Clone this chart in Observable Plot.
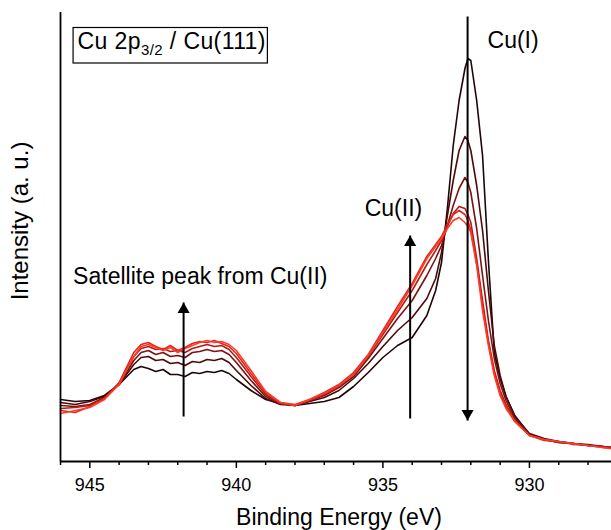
<!DOCTYPE html>
<html><head><meta charset="utf-8">
<script src="https://cdn.jsdelivr.net/npm/d3@7"></script>
<script src="https://cdn.jsdelivr.net/npm/@observablehq/plot@0.6"></script>
<style>
body{margin:0;background:#fff;}
</style></head><body><div id="chart"></div>
<script>
// Binding energy grid (eV)
const energy = [946, 945.5, 945, 944.5, 944, 943.5, 943.25, 943, 942.75, 942.5, 942.25, 942, 941.75, 941.5, 941.25, 941, 940.75, 940.5, 940.25, 940, 939.5, 939, 938.5, 938, 937.5, 937, 936.5, 936, 935.5, 935, 934.5, 934, 933.5, 933.2, 933, 932.8, 932.6, 932.4, 932.2, 932.1, 932.0, 931.8, 931.6, 931.4, 931.2, 931, 930.8, 930.5, 930, 929.5, 929, 928.5, 928, 927.5, 927.2];
// Intensity (a. u.) of six spectra, darkest to brightest
const s1 = [62,60,61,66,77,92,95,93,90,92,87,87,85,89,88,90,89,91,88,82,71,62,58,56,58,60,64,75,89,104,116,124,146,171,199,253,316,361,393,403,401,361,306,201,109,83,65,46,27,22,19,18,16,15,14];
const s2 = [59,57,60,65,77,97,104,105,101,102,98,99,96,100,99,102,101,103,99,91,76,63,57,56,60,64,71,83,98,115,131,144,163,183,209,246,281,311,325,321,311,276,231,171,116,86,65,45,28,23,20,18,17,15,14];
const s3 = [56,55,57,64,77,101,109,111,107,109,105,106,104,109,110,112,110,111,107,99,81,65,58,56,61,66,74,85,103,123,143,161,186,203,216,236,256,273,284,279,269,233,186,141,103,78,61,43,27,22,20,18,16,15,14];
const s4 = [53,54,56,63,78,105,113,115,112,113,110,111,109,113,115,117,115,116,112,104,85,67,58,56,61,67,75,87,105,127,149,171,197,211,221,235,248,255,253,247,239,203,161,121,91,71,57,41,26,22,19,18,16,15,14];
const s5 = [51,49,55,63,79,109,117,119,115,112,116,111,114,118,120,119,121,118,115,108,88,69,59,57,62,69,77,89,107,131,155,178,205,217,225,237,247,251,247,241,231,198,156,119,89,68,55,40,26,21,20,17,16,14,13];
const s6 = [48,51,54,62,77,105,115,117,114,111,114,109,113,116,119,121,119,120,117,111,91,70,59,56,62,68,76,87,106,129,152,176,203,215,223,233,241,244,239,235,229,196,151,116,86,66,53,40,26,22,20,18,16,14,13];
const seriesNames = ["1", "2", "3", "4", "5", "6"];
const seriesColors = ["#1e0606", "#4c0a0a", "#7c1212", "#b41c16", "#e0261c", "#ff3a28"];
const seriesValues = [s1, s2, s3, s4, s5, s6];

const majorTicks = [945, 940, 935, 930];
const minorTicks = [946, 944, 943, 942, 941, 939, 938, 937, 936, 934, 933, 932, 931, 929, 928];

// Arrows (x in eV, from/to in intensity)
const arrowX = [932.11, 934.07, 941.8];
const arrowFrom = [445, 43, 45];
const arrowTo = [41, 226, 159];

// Labels
const labelText = ["Cu(I)", "Cu(II)", "Satellite peak from Cu(II)"];
const labelX = [931.43, 934.64, 945.57];
const labelY = [421, 253, 185];
const labelAnchor = ["start", "middle", "start"];

const boxX = 945.40, boxY = 412;
const yLabelY = 240;

const rows = seriesNames.flatMap((n, i) => energy.map((e, j) => ({series: n, e, v: seriesValues[i][j]})));
const arrows = arrowX.map((x, i) => ({x, from: arrowFrom[i], to: arrowTo[i], down: arrowTo[i] < arrowFrom[i]}));
const labels = labelText.map((t, i) => ({t, x: labelX[i], y: labelY[i], a: labelAnchor[i]}));

const font = "'Liberation Sans', Arial, sans-serif";

const plot = Plot.plot({
  width: 611, height: 530,
  marginLeft: 60, marginRight: 0, marginTop: 12, marginBottom: 69,
  style: {fontFamily: font, fontSize: "18px", color: "#000", background: "#fff"},
  x: {domain: [946, 927.2]},
  y: {domain: [0, 449], axis: null},
  color: {type: "ordinal", domain: seriesNames, range: seriesColors},
  marks: [
    Plot.line(rows, {x: "e", y: "v", z: "series", stroke: "series", strokeWidth: 1.6, strokeLinejoin: "round"}),
    Plot.link(arrows, {x1: "x", x2: "x", y1: "from", y2: "to", stroke: "#000", strokeWidth: 2}),
    Plot.dot(arrows.filter(d => !d.down), {x: "x", y: "to", symbol: "triangle", r: 4.5, fill: "#000", stroke: "none", dy: 7}),
    Plot.dot(arrows.filter(d => d.down), {x: "x", y: "to", symbol: "triangle", r: 4.5, fill: "#000", stroke: "none", rotate: 180, dy: -7}),
    Plot.text(labels.filter(d => d.a === "start"), {x: "x", y: "y", text: "t", textAnchor: "start", fontSize: 23, fill: "#000"}),
    Plot.text(labels.filter(d => d.a === "middle"), {x: "x", y: "y", text: "t", textAnchor: "middle", fontSize: 23, fill: "#000"}),
    Plot.ruleY([0], {stroke: "#000", strokeWidth: 1.8}),
    Plot.ruleX([946], {y1: 0, y2: 449, stroke: "#000", strokeWidth: 1.8}),
    Plot.axisX({ticks: majorTicks, tickSize: 7, tickPadding: 10, label: null, fontSize: 18, strokeWidth: 1.5}),
    Plot.axisX({ticks: minorTicks, tickSize: 4, tickFormat: () => "", label: null, strokeWidth: 1.5}),
    Plot.text(["Binding Energy (eV)"], {frameAnchor: "bottom", dy: 56, dx: 3, fontSize: 23, lineAnchor: "middle"})
  ]
});

document.getElementById("chart").appendChild(plot);

const xs = plot.scale("x"), ys = plot.scale("y");
const g = d3.select(plot).append("g").attr("font-family", font).attr("font-size", 23).attr("text-anchor", "start");

// Y axis title
g.append("text")
  .attr("transform", `translate(20,${ys.apply(yLabelY)}) rotate(-90)`)
  .attr("text-anchor", "middle").attr("dy", "0.35em").attr("font-size", 24).attr("fill", "#000")
  .text("Intensity (a. u.)");

// Boxed title with subscript
const tx = xs.apply(boxX), ty = ys.apply(boxY);
const rect = g.append("rect").attr("fill", "#fff").attr("stroke", "#000").attr("stroke-width", 1.2);
const t = g.append("text").attr("x", tx).attr("y", ty).attr("fill", "#000").attr("text-anchor", "start").attr("letter-spacing", "0.4px");
t.append("tspan").text("Cu 2p");
t.append("tspan").attr("dy", 6).attr("font-size", 15).text("3/2");
t.append("tspan").attr("dy", -6).text(" / Cu(111)");
const bb = t.node().getBBox();
rect.attr("x", bb.x - 4.5).attr("y", ty - 21.5).attr("width", bb.width + 6).attr("height", 35.5);
</script>
</body></html>
